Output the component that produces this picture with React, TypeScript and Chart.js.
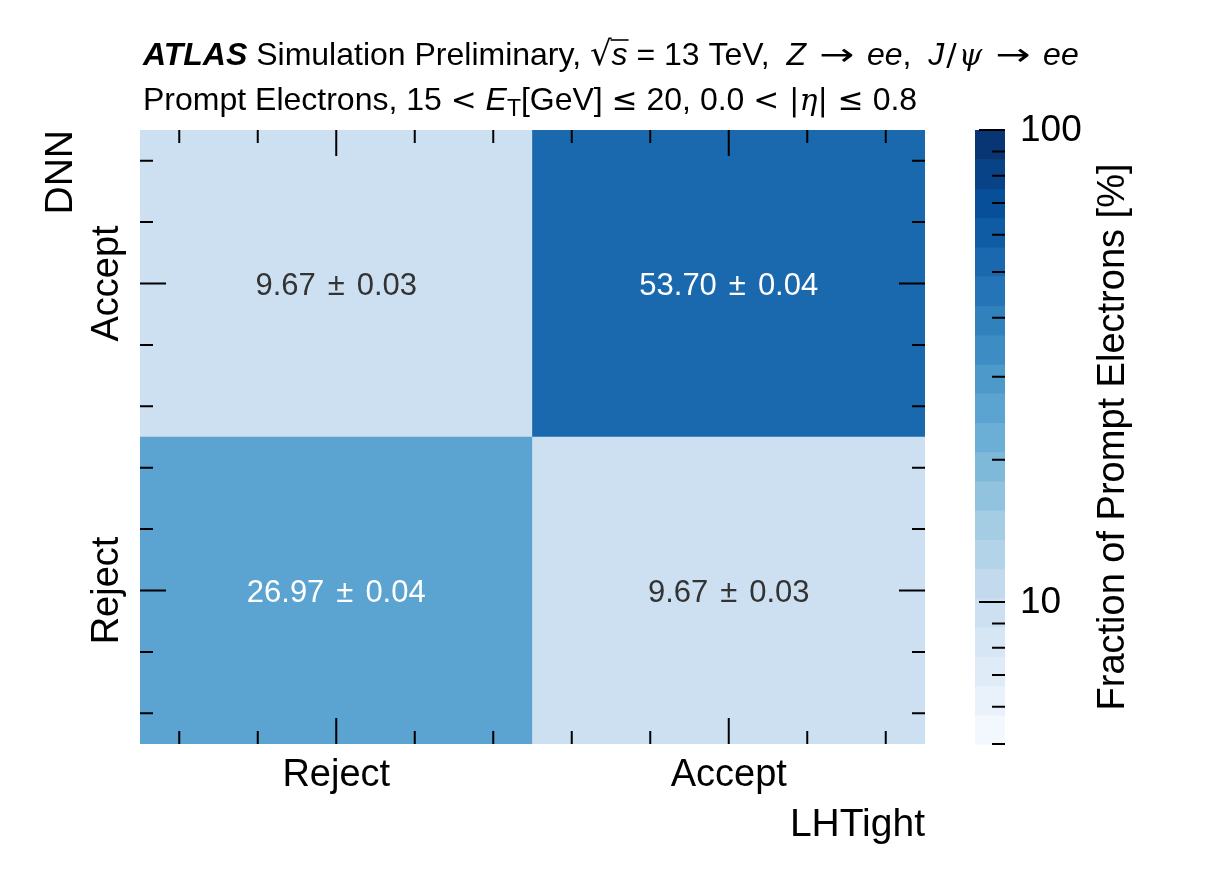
import React, { useEffect, useRef } from 'react';
import { Chart, registerables } from 'chart.js';

Chart.register(...registerables);

// ---- data ----
const lhTightCategories = ['Reject', 'Accept'];
const dnnCategories = ['Reject', 'Accept'];
const dnnRejectFractions = [26.97, 9.67];
const dnnAcceptFractions = [9.67, 53.7];
const dnnRejectErrors = [0.04, 0.03];
const dnnAcceptErrors = [0.03, 0.04];
const colorbarMin = 5;
const colorbarMax = 100;
const colorbarLevels = 21;
const colorbarMajorTicks = [10, 100];
const colorbarMinorTicks = [5, 6, 7, 8, 9, 20, 30, 40, 50, 60, 70, 80, 90];
const axisMajorTicks = [0, 1];
const axisMinorTicks = [-0.4, -0.2, 0.2, 0.4, 0.6, 0.8, 1.2, 1.4];
const xAxisTitle = 'LHTight';
const yAxisTitle = 'DNN';
const colorbarTitle = 'Fraction of Prompt Electrons [%]';

const fractionRows = [dnnRejectFractions, dnnAcceptFractions];
const errorRows = [dnnRejectErrors, dnnAcceptErrors];

// matplotlib "Blues"
const bluesStops = ['#f7fbff', '#deebf7', '#c6dbef', '#9ecae1', '#6baed6', '#4292c6', '#2171b5', '#08519c', '#08306b'];

function hexToRgb(h: string) {
  const n = parseInt(h.slice(1), 16);
  return [(n >> 16) & 255, (n >> 8) & 255, n & 255];
}
function blues(t: number) {
  const tt = Math.max(0, Math.min(1, t)) * (bluesStops.length - 1);
  const i = Math.min(bluesStops.length - 2, Math.floor(tt));
  const f = tt - i;
  const a = hexToRgb(bluesStops[i]);
  const b = hexToRgb(bluesStops[i + 1]);
  const c = a.map((v, k) => Math.round(v + (b[k] - v) * f));
  return `rgb(${c[0]},${c[1]},${c[2]})`;
}
function levelOf(v: number) {
  const f = (Math.log(v) - Math.log(colorbarMin)) / (Math.log(colorbarMax) - Math.log(colorbarMin));
  return Math.max(0, Math.min(colorbarLevels - 1, Math.floor(f * colorbarLevels)));
}
function colorFor(v: number) {
  return blues((levelOf(v) + 0.5) / colorbarLevels);
}

const FONT = '"Liberation Sans", Arial, sans-serif';
const MATH = '"DejaVu Sans", sans-serif';
const SERIF = '"DejaVu Serif", "Liberation Serif", serif';

type Seg = { t: string; f: string; dy?: number; over?: boolean; gap?: number; sx?: number };

function drawRich(ctx: CanvasRenderingContext2D, segs: Seg[], x: number, y: number) {
  let cx = x;
  for (const s of segs) {
    if (s.gap) {
      cx += s.gap;
      continue;
    }
    ctx.font = s.f;
    const sx = s.sx || 1;
    const w = ctx.measureText(s.t).width * sx;
    ctx.save();
    ctx.translate(cx, y + (s.dy || 0));
    ctx.scale(sx, 1);
    ctx.fillText(s.t, 0, 0);
    ctx.restore();
    if (s.over) {
      ctx.save();
      ctx.lineWidth = 1.6;
      ctx.beginPath();
      ctx.moveTo(cx - 1, y - 25);
      ctx.lineTo(cx + w + 1, y - 25);
      ctx.stroke();
      ctx.restore();
    }
    cx += w;
  }
  return cx;
}

const TS = 32;
const base = `${TS}px ${FONT}`;
const ital = `italic ${TS}px ${FONT}`;
const boldItal = `italic bold ${TS}px ${FONT}`;
const math = `${TS - 1}px ${MATH}`;
const mathItal = `italic ${TS - 2}px ${SERIF}`;
const sub = `${TS - 9}px ${FONT}`;

const titleLine1: Seg[] = [
  { t: 'ATLAS', f: boldItal },
  { t: ' Simulation Preliminary, ', f: base },
  { t: '√', f: `${TS + 2}px ${MATH}` },
  { t: 's', f: ital, over: true },
  { t: ' = 13 TeV, ', f: base },
  { t: '', f: base, gap: 8 },
  { t: 'Z', f: ital },
  { t: ' ', f: base },
  { t: '', f: base, gap: 4 },
  { t: '→', f: math, sx: 1.35 },
  { t: '', f: base, gap: 4 },
  { t: ' ', f: base },
  { t: 'ee', f: ital },
  { t: ', ', f: base },
  { t: '', f: base, gap: 8 },
  { t: 'J', f: ital },
  { t: '', f: base, gap: 2 },
  { t: '/', f: math },
  { t: '', f: base, gap: 2 },
  { t: 'ψ', f: mathItal },
  { t: ' ', f: base },
  { t: '', f: base, gap: 4 },
  { t: '→', f: math, sx: 1.35 },
  { t: '', f: base, gap: 4 },
  { t: ' ', f: base },
  { t: 'ee', f: ital },
];
const titleLine2: Seg[] = [
  { t: 'Prompt Electrons, 15 ', f: base },
  { t: '<', f: math },
  { t: ' ', f: base },
  { t: 'E', f: ital },
  { t: 'T', f: sub, dy: 6 },
  { t: '[GeV] ', f: base },
  { t: '≤', f: math },
  { t: ' 20, 0.0 ', f: base },
  { t: '<', f: math },
  { t: ' |', f: math },
  { t: 'η', f: mathItal },
  { t: '| ', f: math },
  { t: '≤', f: math },
  { t: ' 0.8', f: base },
];

const overlayPlugin = {
  id: 'overlay',
  afterDraw(chart: any) {
    const ctx: CanvasRenderingContext2D = chart.ctx;
    const xs = chart.scales.x;
    const ys = chart.scales.y;
    const cb = chart.scales.cb;
    const area = chart.chartArea;
    ctx.save();

    // cell annotations
    fractionRows.forEach((row, r) => {
      row.forEach((v, c) => {
        const cx = xs.getPixelForValue(c);
        const cy = ys.getPixelForValue(r);
        ctx.font = `31px ${FONT}`;
        ctx.fillStyle = levelOf(v) >= 10 ? '#ffffff' : '#333333';
        ctx.textBaseline = 'alphabetic';
        ctx.textAlign = 'left';
        const s1 = v.toFixed(2);
        const s2 = '±';
        const s3 = errorRows[r][c].toFixed(2);
        const w1 = ctx.measureText(s1).width;
        const w2 = ctx.measureText(s2).width;
        const w3 = ctx.measureText(s3).width;
        const gap = 12;
        const total = w1 + w2 + w3 + 2 * gap;
        let x0 = cx - total / 2;
        const by = cy + 11;
        ctx.fillText(s1, x0, by);
        x0 += w1 + gap;
        ctx.fillText(s2, x0, by);
        x0 += w2 + gap;
        ctx.fillText(s3, x0, by);
      });
    });

    // inward ticks on all four sides
    ctx.strokeStyle = '#000';
    ctx.lineWidth = 2;
    const drawTicks = (vals: number[], len: number) => {
      ctx.beginPath();
      for (const v of vals) {
        const px = xs.getPixelForValue(v);
        ctx.moveTo(px, area.bottom);
        ctx.lineTo(px, area.bottom - len);
        ctx.moveTo(px, area.top);
        ctx.lineTo(px, area.top + len);
        const py = ys.getPixelForValue(v);
        ctx.moveTo(area.left, py);
        ctx.lineTo(area.left + len, py);
        ctx.moveTo(area.right, py);
        ctx.lineTo(area.right - len, py);
      }
      ctx.stroke();
    };
    drawTicks(axisMajorTicks, 26);
    drawTicks(axisMinorTicks, 13);

    // tick labels
    ctx.fillStyle = '#000';
    ctx.font = `38px ${FONT}`;
    ctx.textAlign = 'center';
    ctx.textBaseline = 'alphabetic';
    lhTightCategories.forEach((lab, i) => {
      ctx.fillText(lab, xs.getPixelForValue(i), area.bottom + 42);
    });
    dnnCategories.forEach((lab, i) => {
      ctx.save();
      ctx.translate(area.left - 22, ys.getPixelForValue(i));
      ctx.rotate(-Math.PI / 2);
      ctx.fillText(lab, 0, 0);
      ctx.restore();
    });

    // axis titles
    ctx.textAlign = 'right';
    ctx.font = `39px ${FONT}`;
    ctx.fillText(xAxisTitle, area.right, area.bottom + 92);
    ctx.save();
    ctx.translate(area.left - 68, area.top);
    ctx.rotate(-Math.PI / 2);
    ctx.fillText(yAxisTitle, 0, 0);
    ctx.restore();

    // colorbar
    const cbLeft = area.right + 50;
    const cbW = 30;
    const cbRight = cbLeft + cbW;
    const lmin = Math.log(colorbarMin);
    const lmax = Math.log(colorbarMax);
    for (let i = 0; i < colorbarLevels; i++) {
      const v0 = Math.exp(lmin + ((lmax - lmin) * i) / colorbarLevels);
      const v1 = Math.exp(lmin + ((lmax - lmin) * (i + 1)) / colorbarLevels);
      const y0 = cb.getPixelForValue(v0);
      const y1 = cb.getPixelForValue(v1);
      ctx.fillStyle = blues((i + 0.5) / colorbarLevels);
      ctx.fillRect(cbLeft, y1, cbW, y0 - y1 + 0.6);
    }
    ctx.strokeStyle = '#000';
    ctx.lineWidth = 2;
    ctx.beginPath();
    for (const v of colorbarMajorTicks) {
      const py = cb.getPixelForValue(v);
      ctx.moveTo(cbRight, py);
      ctx.lineTo(cbRight - 26, py);
    }
    for (const v of colorbarMinorTicks) {
      const py = cb.getPixelForValue(v);
      ctx.moveTo(cbRight, py);
      ctx.lineTo(cbRight - 13, py);
    }
    ctx.stroke();
    ctx.fillStyle = '#000';
    ctx.font = `37px ${FONT}`;
    ctx.textAlign = 'left';
    ctx.textBaseline = 'middle';
    for (const v of colorbarMajorTicks) {
      ctx.fillText(String(v), cbRight + 15, cb.getPixelForValue(v) + 1);
    }
    ctx.font = `38px ${FONT}`;
    ctx.textAlign = 'center';
    ctx.textBaseline = 'alphabetic';
    ctx.save();
    ctx.translate(cbRight + 119, (cb.top + cb.bottom) / 2);
    ctx.rotate(-Math.PI / 2);
    ctx.fillText(colorbarTitle, 0, 0);
    ctx.restore();

    // title lines
    ctx.fillStyle = '#000';
    ctx.strokeStyle = '#000';
    ctx.textAlign = 'left';
    ctx.textBaseline = 'alphabetic';
    drawRich(ctx, titleLine1, area.left + 3, area.top - 65);
    drawRich(ctx, titleLine2, area.left + 3, area.top - 20);

    ctx.restore();
  },
};

export default function App() {
  const ref = useRef<HTMLCanvasElement | null>(null);
  useEffect(() => {
    if (!ref.current) return;
    const datasets = dnnCategories.map((name, r) => ({
      label: `DNN ${name}`,
      data: lhTightCategories.map(() => [r - 0.5, r + 0.5]),
      backgroundColor: fractionRows[r].map(colorFor),
      borderWidth: 0,
      barPercentage: 1,
      categoryPercentage: 1,
      grouped: false,
    }));
    const chart = new Chart(ref.current, {
      type: 'bar',
      data: { labels: lhTightCategories, datasets: datasets as any },
      options: {
        animation: false,
        responsive: false,
        maintainAspectRatio: false,
        devicePixelRatio: 1,
        layout: { padding: { left: 140, top: 130, right: 289, bottom: 129 } },
        plugins: { legend: { display: false }, tooltip: { enabled: false }, title: { display: false } },
        scales: {
          x: { type: 'category', display: false, offset: true },
          y: { type: 'linear', display: false, min: -0.5, max: 1.5 },
          cb: { type: 'logarithmic', display: false, position: 'right', min: colorbarMin, max: colorbarMax },
        },
      } as any,
      plugins: [overlayPlugin],
    });
    return () => chart.destroy();
  }, []);
  return (
    <div style={{ position: 'fixed', left: 0, top: 0, width: 1214, height: 873, background: '#fff' }}>
      <canvas ref={ref} width={1214} height={873} style={{ width: 1214, height: 873 }} />
    </div>
  );
}
